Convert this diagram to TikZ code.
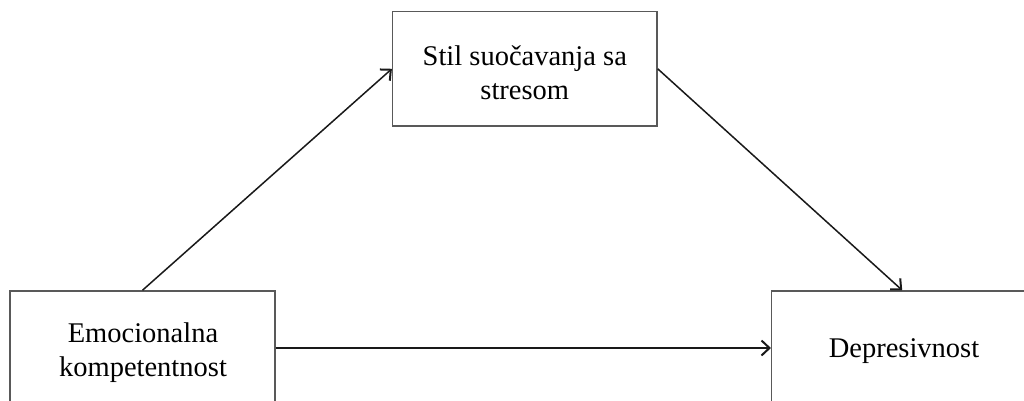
\documentclass[tikz,border=0pt]{standalone}
\usepackage{fontspec}
\setmainfont{Liberation Serif}
\usetikzlibrary{arrows.meta}
\begin{document}
\begin{tikzpicture}[x=1pt,y=-1pt,
  boxnode/.style={draw=black!65,line width=1.5pt,rectangle,inner sep=0pt},
  lbl/.style={inner sep=0pt,align=center,font=\fontsize{28.5}{34}\selectfont},
  conn/.style={line width=1.5pt,black!90,-{Straight Barb[length=8pt,width=15pt,line width=2pt]}}]
\clip (0,0) rectangle (1024,401);
\fill[white] (0,0) rectangle (1024,401);
\node[boxnode,minimum width=264.3pt,minimum height=114.3pt] (med) at (524.8,68.8) {};
\node[boxnode,minimum width=265pt,minimum height=114pt] (emo) at (142.5,348) {};
\node[boxnode,minimum width=261pt,minimum height=114pt] (dep) at (902.2,348) {};
\node[lbl] (tmed) at (524.8,72.9) {Stil suočavanja sa\\stresom};
\node[lbl] (temo) at (143,352.7) {Emocionalna\\kompetentnost};
\node[lbl] (tdep) at (904,351.3) {Depresivnost};
\draw[conn] (emo.north) -- (med.west);
\draw[conn] (med.east) -- (dep.north);
\draw[conn] (emo.east) -- (dep.west);
\end{tikzpicture}
\end{document}
